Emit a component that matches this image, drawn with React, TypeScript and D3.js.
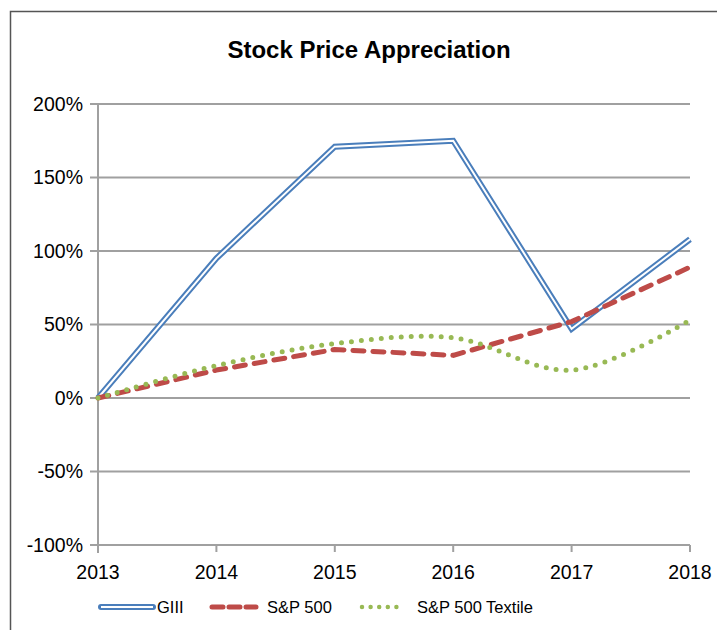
import React from 'react';
import * as d3 from 'd3';

const years = ['2013', '2014', '2015', '2016', '2017', '2018'];
const giii = [0, 95, 171, 175, 47, 108];
const sp500 = [0, 19, 33, 29, 52, 89];
const textile = [0, 22, 37, 41, 19, 53];
const yTicks = [-100, -50, 0, 50, 100, 150, 200];

const font = 'Liberation Sans, Arial, Helvetica, sans-serif';

export default function App() {
  const left = 98, right = 690, top = 104, bottom = 545;

  const x = d3.scalePoint<string>().domain(years).range([left, right]);
  const y = d3.scaleLinear().domain([-100, 200]).range([bottom, top]);

  const straight = d3.line<number>()
    .x((d, i) => x(years[i])!)
    .y(d => y(d));
  const smooth = d3.line<number>()
    .x((d, i) => x(years[i])!)
    .y(d => y(d))
    .curve(d3.curveCatmullRom.alpha(0.5));

  const legendY = 607;

  return (
    <svg width={717} height={630} style={{ position: 'absolute', left: 0, top: 0 }}>
      <rect x={0} y={0} width={717} height={630} fill="#fff" />
      <rect x={10.5} y={11.5} width={720} height={640} fill="#fff" stroke="#555" strokeWidth={1.5} />

      <text x={369} y={58} textAnchor="middle" fontFamily={font} fontWeight="bold" fontSize={24} fill="#000">
        Stock Price Appreciation
      </text>

      {/* grid + y ticks */}
      {yTicks.map(t => (
        <g key={t}>
          <line x1={left - 8} x2={right} y1={y(t)} y2={y(t)} stroke="#a0a0a0" strokeWidth={2} />
          <text x={83} y={y(t)} dy="0.35em" textAnchor="end" fontFamily={font} fontSize={19.5} fill="#000">
            {t}%
          </text>
        </g>
      ))}

      {/* y axis */}
      <line x1={left} x2={left} y1={top} y2={bottom + 8} stroke="#a0a0a0" strokeWidth={2} />

      {/* x ticks */}
      {years.map(yr => (
        <g key={yr}>
          <line x1={x(yr)} x2={x(yr)} y1={bottom} y2={bottom + 7} stroke="#a0a0a0" strokeWidth={2} />
          <text x={x(yr)} y={572} dy="0.35em" textAnchor="middle" fontFamily={font} fontSize={19.5} fill="#000">
            {yr}
          </text>
        </g>
      ))}

      {/* series */}
      <path d={straight(giii)!} fill="none" stroke="#4a7ebb" strokeWidth={6} strokeLinejoin="miter" />
      <path d={straight(giii)!} fill="none" stroke="#fff" strokeWidth={2} strokeLinejoin="miter" />
      <path d={straight(sp500)!} fill="none" stroke="#be4b48" strokeWidth={5} strokeDasharray="11 9" strokeLinecap="round" />
      <path d={smooth(textile)!} fill="none" stroke="#98b954" strokeWidth={5} strokeDasharray="0 10" strokeLinecap="round" />

      {/* legend */}
      <line x1={101} x2={153} y1={legendY} y2={legendY} stroke="#4a7ebb" strokeWidth={6} strokeLinecap="round" />
      <line x1={101} x2={153} y1={legendY} y2={legendY} stroke="#fff" strokeWidth={2} />
      <text x={157} y={legendY} dy="0.35em" fontFamily={font} fontSize={16.5} fill="#000">GIII</text>

      <line x1={212} x2={256} y1={legendY} y2={legendY} stroke="#be4b48" strokeWidth={5} strokeDasharray="11 6" strokeLinecap="round" />
      <text x={267} y={legendY} dy="0.35em" fontFamily={font} fontSize={16.5} fill="#000">S&amp;P 500</text>

      <line x1={362} x2={405} y1={legendY} y2={legendY} stroke="#98b954" strokeWidth={4.5} strokeDasharray="0 8.6" strokeLinecap="round" />
      <text x={417} y={legendY} dy="0.35em" fontFamily={font} fontSize={16.5} fill="#000">S&amp;P 500 Textile</text>
    </svg>
  );
}
